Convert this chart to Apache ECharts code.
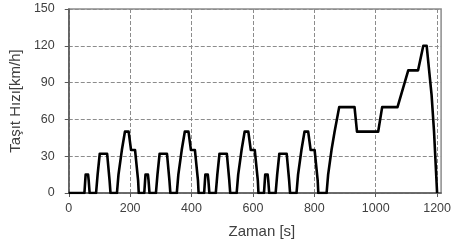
<!DOCTYPE html>
<html>
<head>
<meta charset="utf-8">
<script src="https://cdn.jsdelivr.net/npm/echarts@6/dist/echarts.min.js"></script>
<style>html,body{margin:0;padding:0;background:#fff;}#c{width:454px;height:246px;}</style>
</head>
<body>
<div id="c"></div>
<script>
// Time [s]
var timeSec = [
  0,
  51,55,63,65,68,89,94,96,101,125,133,136,157,162,164,173,175,183,195,203,216,226,228,
  246,250,258,260,263,284,289,291,296,320,328,331,352,357,359,368,370,378,390,398,411,421,423,
  441,445,453,455,458,479,484,486,491,515,523,526,547,552,554,563,565,573,585,593,606,616,618,
  636,640,648,650,653,674,679,681,686,710,718,721,742,747,749,758,760,768,780,788,801,811,813,
  840,845,847,856,858,866,868,881,931,939,1008,1021,1071,1106,1138,1155,1166,1182,1190,1200
];
// Vehicle speed [km/h]
var speedKmh = [
  0,
  0,15,15,10,0,0,15,15,32,32,10,0,0,15,15,35,35,50,50,35,35,10,0,
  0,15,15,10,0,0,15,15,32,32,10,0,0,15,15,35,35,50,50,35,35,10,0,
  0,15,15,10,0,0,15,15,32,32,10,0,0,15,15,35,35,50,50,35,35,10,0,
  0,15,15,10,0,0,15,15,32,32,10,0,0,15,15,35,35,50,50,35,35,10,0,
  0,15,15,35,35,50,50,70,70,50,50,70,70,100,100,120,120,80,50,0
];
var xTicks = [0,200,400,600,800,1000,1200];
var yTicks = [0,30,60,90,120,150];
var xName = 'Zaman [s]';
var yName = 'Taşıt Hızı[km/h]';

var pts = timeSec.map(function(t,i){ return [t, speedKmh[i]]; });
var font = "'Liberation Sans', Arial, sans-serif";
var txt = '#404040';
function plain(v){ return String(v); }

var chart = echarts.init(document.getElementById('c'), null, {renderer:'canvas'});
chart.setOption({
  animation:false,
  grid:{left:68, right:10, top:9, bottom:53, show:true, borderColor:'#8c8c8c', borderWidth:1.5, containLabel:false},
  xAxis:{
    type:'value', min:0, max:1213, interval:200,
    name:xName, nameLocation:'middle', nameGap:31,
    nameTextStyle:{fontFamily:font, fontSize:15, color:txt, padding:[0,0,0,14]},
    axisLine:{show:true, onZero:false, lineStyle:{color:'#595959', width:1.5}},
    axisTick:{show:true, length:4, customValues:xTicks, lineStyle:{color:'#595959'}},
    axisLabel:{customValues:xTicks, formatter:plain, margin:9, fontFamily:font, fontSize:12.5, color:txt},
    splitLine:{show:true, lineStyle:{type:[4,2], color:'#8c8c8c', width:1}}
  },
  yAxis:{
    type:'value', min:0, max:150, interval:30,
    name:yName, nameLocation:'middle', nameGap:38, nameRotate:90,
    nameTextStyle:{fontFamily:font, fontSize:15, color:txt},
    axisLine:{show:true, lineStyle:{color:'#595959', width:1.5}},
    axisTick:{show:true, length:4, lineStyle:{color:'#595959'}},
    axisLabel:{customValues:yTicks, formatter:plain, margin:14, fontFamily:font, fontSize:12.5, color:txt},
    splitLine:{show:true, lineStyle:{type:[4,2], color:'#8c8c8c', width:1}}
  },
  series:[{
    type:'line', data:pts, symbol:'none', z:5,
    lineStyle:{color:'#000', width:2.6, join:'round'},
    itemStyle:{color:'#000'}
  }]
});
</script>
</body>
</html>
